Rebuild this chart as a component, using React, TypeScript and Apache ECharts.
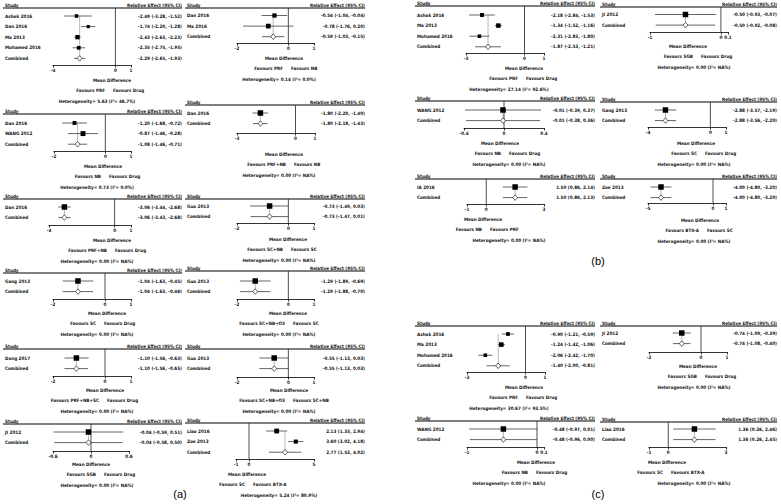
import React, { useEffect, useRef } from "react";
import * as echarts from "echarts";

type Row = [string, number, number, number, number]; // name, estimate, lower, upper, weight(%)

// ---------- Panel (a) ----------
const a1Studies: Row[] = [
  ["Ashok 2016", -2.49, -3.28, -1.52, 20],
  ["Dan 2016", -1.74, -2.2, -1.28, 10],
  ["Ma 2013", -2.43, -2.63, -2.23, 45],
  ["Mohamed 2016", -2.35, -2.75, -1.95, 25],
];
const a1Pooled = [-2.29, -2.65, -1.93];
const a1Ticks = [-4, 0, 1];
const a1Favours = ["Favours PRF", "Favours Drug"];
const a1Het = "5.63 (I²= 46.7%)";

const a2Studies: Row[] = [
  ["Dan 2016", -1.2, -1.68, -0.72, 30],
  ["WANG 2012", -0.87, -1.46, -0.28, 70],
];
const a2Pooled = [-1.08, -1.46, -0.71];
const a2Ticks = [-2, 0, 1];
const a2Favours = ["Favours NB", "Favours Drug"];
const a2Het = "0.73 (I²= 0.0%)";

const a3Studies: Row[] = [["Dan 2016", -3.06, -3.44, -2.68, 100]];
const a3Pooled = [-3.06, -3.43, -2.68];
const a3Ticks = [-4, 0, 1];
const a3Favours = ["Favours PRF+NB", "Favours Drug"];
const a3Het = "0.00 (I²= NA%)";

const a4Studies: Row[] = [["Gang 2013", -1.04, -1.63, -0.45, 100]];
const a4Pooled = [-1.04, -1.63, -0.46];
const a4Ticks = [-2, 0, 1];
const a4Favours = ["Favours SC", "Favours Drug"];
const a4Het = "0.00 (I²= NA%)";

const a5Studies: Row[] = [["Dong 2017", -1.1, -1.56, -0.63, 100]];
const a5Pooled = [-1.1, -1.56, -0.65];
const a5Ticks = [-2, 0, 1];
const a5Favours = ["Favours PRF+NB+SC", "Favours Drug"];
const a5Het = "0.00 (I²= NA%)";

const a6Studies: Row[] = [["JI 2012", -0.04, -0.59, 0.51, 100]];
const a6Pooled = [-0.04, -0.58, 0.5];
const a6Ticks = [-0.6, 0, 0.6];
const a6Favours = ["Favours SGB", "Favours Drug"];
const a6Het = "0.00 (I²= NA%)";

const ar1Studies: Row[] = [
  ["Dan 2016", -0.54, -1.04, -0.04, 40],
  ["Ma 2016", -0.78, -1.76, 0.2, 60],
];
const ar1Pooled = [-0.59, -1.03, -0.15];
const ar1Ticks = [-2, 0, 1];
const ar1Favours = ["Favours PRF", "Favours NB"];
const ar1Het = "0.14 (I²= 0.0%)";

const ar2Studies: Row[] = [["Dan 2016", -1.8, -2.2, -1.4, 100]];
const ar2Pooled = [-1.8, -2.18, -1.43];
const ar2Ticks = [-3, 0, 1];
const ar2Favours = ["Favours PRF+NB", "Favours NB"];
const ar2Het = "0.00 (I²= NA%)";

const ar3Studies: Row[] = [["Guo 2013", -0.73, -1.49, 0.03, 100]];
const ar3Pooled = [-0.73, -1.47, 0.01];
const ar3Ticks = [-2, 0, 1];
const ar3Favours = ["Favours SC+NB", "Favours SC"];
const ar3Het = "0.00 (I²= NA%)";

const ar4Studies: Row[] = [["Guo 2013", -1.29, -1.89, -0.69, 100]];
const ar4Pooled = [-1.29, -1.88, -0.7];
const ar4Ticks = [-2, 0, 1];
const ar4Favours = ["Favours SC+NB+O3", "Favours SC"];
const ar4Het = "0.00 (I²= NA%)";

const ar5Studies: Row[] = [["Guo 2013", -0.55, -1.13, 0.03, 100]];
const ar5Pooled = [-0.55, -1.13, 0.03];
const ar5Ticks = [-2, 0, 1];
const ar5Favours = ["Favours SC+NB+O3", "Favours SC+NB"];
const ar5Het = "0.00 (I²= NA%)";

const ar6Studies: Row[] = [
  ["Liao 2016", 2.13, 1.33, 2.94, 65],
  ["Zoe 2013", 3.6, 3.02, 4.18, 35],
];
const ar6Pooled = [2.77, 1.53, 4.02];
const ar6Ticks = [-1, 0, 5];
const ar6Favours = ["Favours SC", "Favours BTX-A"];
const ar6Het = "5.24 (I²= 80.9%)";

// ---------- Panel (b) ----------
const bl1Studies: Row[] = [
  ["Ashok 2016", -2.18, -2.84, -1.53, 30],
  ["Ma 2013", -1.34, -1.52, -1.16, 50],
  ["Mohamed 2016", -2.31, -2.83, -1.8, 20],
];
const bl1Pooled = [-1.87, -2.53, -1.21];
const bl1Ticks = [-3, 0, 1];
const bl1Favours = ["Favours PRF", "Favours Drug"];
const bl1Het = "27.14 (I²= 92.6%)";

const bl2Studies: Row[] = [["WANG 2012", -0.01, -0.39, 0.37, 100]];
const bl2Pooled = [-0.01, -0.38, 0.36];
const bl2Ticks = [-0.4, 0, 0.4];
const bl2Favours = ["Favours NB", "Favours Drug"];
const bl2Het = "0.00 (I²= NA%)";

const bl3Studies: Row[] = [["IA 2016", 1.5, 0.86, 2.14, 100]];
const bl3Pooled = [1.5, 0.86, 2.13];
const bl3Ticks = [-1, 0, 3];
const bl3Favours = ["Favours NB", "Favours PRF"];
const bl3Het = "0.00 (I²= NA%)";

const br1Studies: Row[] = [["JI 2012", -0.5, -0.93, -0.07, 100]];
const br1Pooled = [-0.5, -0.92, -0.08];
const br1Ticks = [-1, 0, 0.1];
const br1Favours = ["Favours SGB", "Favours Drug"];
const br1Het = "0.00 (I²= NA%)";

const br2Studies: Row[] = [["Gang 2013", -2.88, -3.57, -2.19, 100]];
const br2Pooled = [-2.88, -3.56, -2.2];
const br2Ticks = [-4, 0, 1];
const br2Favours = ["Favours SC", "Favours Drug"];
const br2Het = "0.00 (I²= NA%)";

const br3Studies: Row[] = [["Zoe 2013", -4.0, -4.8, -3.2, 100]];
const br3Pooled = [-4.0, -4.8, -3.2];
const br3Ticks = [-5, 0, 1];
const br3Favours = ["Favours BTX-A", "Favours SC"];
const br3Het = "0.00 (I²= NA%)";

// ---------- Panel (c) ----------
const cl1Studies: Row[] = [
  ["Ashok 2016", -0.9, -1.21, -0.59, 25],
  ["Ma 2013", -1.24, -1.42, -1.06, 55],
  ["Mohamed 2016", -2.06, -2.42, -1.7, 20],
];
const cl1Pooled = [-1.4, -2.0, -0.81];
const cl1Ticks = [-3, 0, 1];
const cl1Favours = ["Favours PRF", "Favours Drug"];
const cl1Het = "30.67 (I²= 93.5%)";

const cl2Studies: Row[] = [["WANG 2012", -0.48, -0.97, 0.01, 100]];
const cl2Pooled = [-0.48, -0.96, 0.0];
const cl2Ticks = [-1, 0, 0.1];
const cl2Favours = ["Favours NB", "Favours Drug"];
const cl2Het = "0.00 (I²= NA%)";

const cr1Studies: Row[] = [["JI 2012", -0.74, -1.09, -0.39, 100]];
const cr1Pooled = [-0.74, -1.08, -0.4];
const cr1Ticks = [-2, 0, 1];
const cr1Favours = ["Favours SGB", "Favours Drug"];
const cr1Het = "0.00 (I²= NA%)";

const cr2Studies: Row[] = [["Liao 2016", 1.36, 0.26, 2.46, 100]];
const cr2Pooled = [1.36, 0.26, 2.45];
const cr2Ticks = [-1, 0, 3];
const cr2Favours = ["Favours SC", "Favours BTX-A"];
const cr2Het = "0.00 (I²= NA%)";

type Plot = { studies: Row[]; pooled: number[]; ticks: number[]; favours: string[]; het: string };
const mk = (studies: Row[], pooled: number[], ticks: number[], favours: string[], het: string): Plot => ({ studies, pooled, ticks, favours, het });

const PLOTS: Plot[] = [
  mk(a1Studies, a1Pooled, a1Ticks, a1Favours, a1Het),
  mk(a2Studies, a2Pooled, a2Ticks, a2Favours, a2Het),
  mk(a3Studies, a3Pooled, a3Ticks, a3Favours, a3Het),
  mk(a4Studies, a4Pooled, a4Ticks, a4Favours, a4Het),
  mk(a5Studies, a5Pooled, a5Ticks, a5Favours, a5Het),
  mk(a6Studies, a6Pooled, a6Ticks, a6Favours, a6Het),
  mk(ar1Studies, ar1Pooled, ar1Ticks, ar1Favours, ar1Het),
  mk(ar2Studies, ar2Pooled, ar2Ticks, ar2Favours, ar2Het),
  mk(ar3Studies, ar3Pooled, ar3Ticks, ar3Favours, ar3Het),
  mk(ar4Studies, ar4Pooled, ar4Ticks, ar4Favours, ar4Het),
  mk(ar5Studies, ar5Pooled, ar5Ticks, ar5Favours, ar5Het),
  mk(ar6Studies, ar6Pooled, ar6Ticks, ar6Favours, ar6Het),
  mk(bl1Studies, bl1Pooled, bl1Ticks, bl1Favours, bl1Het),
  mk(bl2Studies, bl2Pooled, bl2Ticks, bl2Favours, bl2Het),
  mk(bl3Studies, bl3Pooled, bl3Ticks, bl3Favours, bl3Het),
  mk(br1Studies, br1Pooled, br1Ticks, br1Favours, br1Het),
  mk(br2Studies, br2Pooled, br2Ticks, br2Favours, br2Het),
  mk(br3Studies, br3Pooled, br3Ticks, br3Favours, br3Het),
  mk(cl1Studies, cl1Pooled, cl1Ticks, cl1Favours, cl1Het),
  mk(cl2Studies, cl2Pooled, cl2Ticks, cl2Favours, cl2Het),
  mk(cr1Studies, cr1Pooled, cr1Ticks, cr1Favours, cr1Het),
  mk(cr2Studies, cr2Pooled, cr2Ticks, cr2Favours, cr2Het),
];

// ---------- Layout (pixels) ----------
// columns: [header line start, text x, header end]
const COLS = [
  [3, 5, 182],
  [185, 187, 365],
  [415, 417, 595],
  [600, 602, 777],
];
// [col, headerY, firstRowY, axisY, pxMin, pxMax, mdX, favX, mdY]
const LAYOUT = [
  [0, 8, 16, 65, 53, 131, 112, 109, 80],
  [0, 114, 123, 151, 54, 131, 103, 105, 166],
  [0, 199, 207, 225, 49, 131, 112, 111, 240],
  [0, 273, 281, 299, 53, 131, 107, 100, 313],
  [0, 349, 358, 376, 53, 131, 105, 103, 390],
  [0, 424, 432, 451, 53, 129, 91, 100, 464],
  [1, 8, 15.5, 43, 237, 314, 284, 287, 58],
  [1, 105, 113, 133, 237, 315, 284, 290, 154],
  [1, 199, 206, 223, 237, 314, 288, 287, 239],
  [1, 271, 281, 299, 237, 314, 288, 289, 313],
  [1, 349, 358, 377, 237, 314, 289, 289, 390],
  [1, 423, 431, 459, 236, 314, 247, 249, 474],
  [2, 6, 15, 53, 466, 544, 524, 522, 68],
  [2, 101, 110, 128, 464, 544, 500, 505, 143],
  [2, 179, 187, 204, 467, 544, 483, 486, 219],
  [3, 7, 14.5, 32, 650, 728, 688, 697, 46],
  [3, 102, 110, 127, 648, 726, 696, 701, 143],
  [3, 179, 187, 203, 648, 726, 700, 703, 220],
  [2, 326, 334, 372, 467, 545, 524, 522, 387],
  [2, 421, 429, 447, 467, 544, 536, 532, 462],
  [3, 326, 333, 352, 649, 727, 698, 701, 366],
  [3, 422, 429, 447, 649, 726, 667, 667, 462],
];
const PANEL_LABELS: [string, number, number][] = [
  ["(a)", 180, 494],
  ["(b)", 598, 261],
  ["(c)", 598, 494],
];

const FONT = "'Liberation Sans Narrow', 'Arial Narrow', 'DejaVu Sans Condensed', 'Liberation Sans', Arial, sans-serif";
const FS = 4.6;
const FW = "bold";
const SP = 10.6;

const fmt = (e: number, l: number, h: number) => `${e.toFixed(2)} (${l.toFixed(2)}, ${h.toFixed(2)})`;

function buildOption() {
  const grid: any[] = [];
  const xAxis: any[] = [];
  const yAxis: any[] = [];
  const series: any[] = [];
  const graphic: any[] = [];
  const txt = (text: string, x: number, y: number, align: string, size = FS) => ({
    type: "text",
    x,
    y,
    silent: true,
    style: { text, fill: "#111", fontSize: size, fontWeight: FW, fontFamily: FONT, align, verticalAlign: "middle" },
  });

  PLOTS.forEach((p, i) => {
    const [col, H, r0, axisY, pxMin, pxMax, mdX, favX, mdY] = LAYOUT[i];
    const [lineX, textX, headerEnd] = COLS[col];
    const n = p.studies.length + 1;
    const names = [...p.studies.map((s) => s[0]), "Combined"];
    const effects = [...p.studies.map((s) => fmt(s[1], s[2], s[3])), fmt(p.pooled[0], p.pooled[1], p.pooled[2])];
    const rows = names.map((_, k) => k);
    const ymin = -(r0 - H) / SP;
    const ymax = (axisY - r0) / SP;

    grid.push({ left: pxMin, top: H, width: pxMax - pxMin, height: axisY - H, containLabel: false, outerBoundsMode: "none" });
    xAxis.push({
      gridIndex: i,
      type: "value",
      min: p.ticks[0],
      max: p.ticks[p.ticks.length - 1],
      axisLine: { show: true, onZero: false, lineStyle: { color: "#000", width: 0.8 } },
      axisTick: { show: true, customValues: p.ticks, length: 2.5, lineStyle: { color: "#000", width: 0.8 } },
      axisLabel: { customValues: p.ticks, fontSize: FS, fontWeight: FW, fontFamily: FONT, color: "#111", margin: 2.5, formatter: (v: number) => String(v) },
      splitLine: { show: false },
    });
    const yBase = {
      gridIndex: i,
      type: "value",
      inverse: true,
      min: ymin,
      max: ymax,
      axisLine: { show: false, onZero: false },
      axisTick: { show: false },
      splitLine: { show: false },
    };
    yAxis.push({
      ...yBase,
      position: "left",
      axisLabel: {
        customValues: rows,
        align: "left",
        margin: pxMin - textX,
        fontSize: FS,
        fontWeight: FW,
        fontFamily: FONT,
        color: "#111",
        formatter: (v: number) => names[Math.round(v)] ?? "",
      },
    });
    yAxis.push({
      ...yBase,
      position: "right",
      axisLabel: {
        customValues: rows,
        align: "right",
        margin: headerEnd - pxMax,
        fontSize: FS,
        fontWeight: FW,
        fontFamily: FONT,
        color: "#111",
        formatter: (v: number) => effects[Math.round(v)] ?? "",
      },
    });

    // zero line
    series.push({
      type: "custom",
      xAxisIndex: i,
      yAxisIndex: 2 * i,
      silent: true,
      clip: false,
      encode: { x: 0, y: [1, 2] },
      data: [[0, ymin, ymax]],
      renderItem: (_pa: any, api: any) => {
        const a = api.coord([api.value(0), api.value(1)]);
        const b = api.coord([api.value(0), api.value(2)]);
        return { type: "line", shape: { x1: a[0], y1: a[1], x2: b[0], y2: b[1] }, style: { stroke: "#222", lineWidth: 0.8 } };
      },
    });
    // pooled estimate line
    series.push({
      type: "custom",
      xAxisIndex: i,
      yAxisIndex: 2 * i,
      silent: true,
      clip: false,
      encode: { x: 0, y: [1, 2] },
      data: [[p.pooled[0], 0, n - 1]],
      renderItem: (_pa: any, api: any) => {
        const a = api.coord([api.value(0), api.value(1)]);
        const b = api.coord([api.value(0), api.value(2)]);
        return { type: "line", shape: { x1: a[0], y1: a[1], x2: b[0], y2: b[1] }, style: { stroke: "#888", lineWidth: 0.6 } };
      },
    });
    // CI lines + markers
    const items = [
      ...p.studies.map((s, k) => [s[1], s[2], s[3], k, s[4], 0]),
      [p.pooled[0], p.pooled[1], p.pooled[2], n - 1, 100, 1],
    ];
    series.push({
      type: "custom",
      xAxisIndex: i,
      yAxisIndex: 2 * i,
      silent: true,
      clip: false,
      encode: { x: [0, 1, 2], y: 3 },
      data: items,
      renderItem: (_pa: any, api: any) => {
        const est = api.value(0), lo = api.value(1), hi = api.value(2), row = api.value(3), w = api.value(4), comb = api.value(5);
        const a = api.coord([lo, row]);
        const b = api.coord([hi, row]);
        const c = api.coord([est, row]);
        const children: any[] = [
          { type: "line", shape: { x1: a[0], y1: a[1], x2: b[0], y2: b[1] }, style: { stroke: "#555", lineWidth: 0.9 } },
        ];
        if (comb) {
          children.push({
            type: "polygon",
            shape: { points: [[c[0] - 2.4, c[1]], [c[0], c[1] - 2.8], [c[0] + 2.4, c[1]], [c[0], c[1] + 2.8]] },
            style: { fill: "#fff", stroke: "#000", lineWidth: 0.6 },
          });
        } else {
          const s = 2 + 3.5 * Math.sqrt(w / 100);
          children.push({ type: "rect", shape: { x: c[0] - s / 2, y: c[1] - s / 2, width: s, height: s }, style: { fill: "#000" } });
        }
        return { type: "group", children };
      },
    });

    // headers and titles
    graphic.push({ type: "line", silent: true, shape: { x1: lineX, y1: H, x2: headerEnd, y2: H }, style: { stroke: "#000", lineWidth: 1.2 } });
    graphic.push(txt("Study", textX, H - 2.8, "left"));
    graphic.push(txt("Relative Effect (95% CI)", headerEnd, H - 2.8, "right"));
    graphic.push(txt("Mean Difference", mdX, mdY, "center"));
    graphic.push(txt(p.favours[0], favX - 4, mdY + 10, "right"));
    graphic.push(txt(p.favours[1], favX + 4, mdY + 10, "left"));
    graphic.push(txt("Heterogeneity= " + p.het, textX + 92, mdY + 21, "center"));
  });

  PANEL_LABELS.forEach(([t, x, y]) => {
    graphic.push({
      type: "text",
      x,
      y,
      silent: true,
      style: { text: t, fill: "#000", fontSize: 11, fontFamily: "'Liberation Sans', Arial, sans-serif", align: "center", verticalAlign: "middle" },
    });
  });

  return {
    animation: false,
    backgroundColor: "#fff",
    textStyle: { fontFamily: FONT },
    grid,
    xAxis,
    yAxis,
    series,
    graphic,
  };
}

export default function App() {
  const ref = useRef<HTMLDivElement>(null);
  useEffect(() => {
    if (!ref.current) return;
    const chart = echarts.init(ref.current, undefined, { renderer: "svg" });
    chart.setOption(buildOption() as any);
    return () => chart.dispose();
  }, []);
  return <div ref={ref} style={{ position: "fixed", left: 0, top: 0, width: 781, height: 504, background: "#fff" }} />;
}
